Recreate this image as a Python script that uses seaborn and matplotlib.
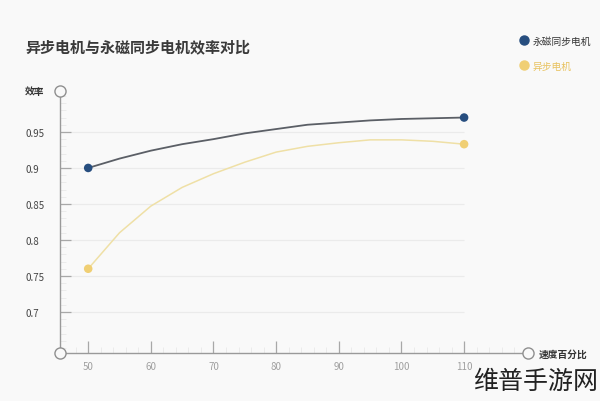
import matplotlib
matplotlib.use("Agg")
import matplotlib.pyplot as plt
import seaborn as sns
from matplotlib.lines import Line2D
from matplotlib.ticker import MultipleLocator

# data
speed = [50, 55, 60, 65, 70, 75, 80, 85, 90, 95, 100, 105, 110]
pm_sync = [0.900, 0.913, 0.924, 0.933, 0.940, 0.948, 0.954, 0.960, 0.963, 0.966, 0.968, 0.969, 0.970]
induction = [0.760, 0.810, 0.847, 0.873, 0.892, 0.908, 0.922, 0.930, 0.935, 0.939, 0.939, 0.937, 0.933]
series_names = ["永磁同步电机", "异步电机"]
y_ticks = [0.7, 0.75, 0.8, 0.85, 0.9, 0.95]
y_labels = ["0.7", "0.75", "0.8", "0.85", "0.9", "0.95"]
x_ticks = [50, 60, 70, 80, 90, 100, 110]

sns.set_style("white")
plt.rcParams["font.family"] = ["Noto Sans CJK SC", "DejaVu Sans"]

bg = "#f9f9f9"
fig = plt.figure(figsize=(6, 4.02), dpi=100, facecolor=bg)
ax = fig.add_axes([0.1, 0.1194, 0.78, 0.652], facecolor=bg)

x0, x1 = 45.5, 120.2
y0, y1 = 0.643, 1.007
ax.set_xlim(x0, x1)
ax.set_ylim(y0, y1)

# grid lines only up to last x value
ax.hlines(y_ticks, x0, speed[-1], color="#ebebeb", lw=0.9, zorder=0)

blue_line = "#5b5f66"
blue_dot = "#274e7f"
yel_line = "#efe0a6"
yel_dot = "#f0cf74"

sns.lineplot(x=speed, y=pm_sync, color=blue_line, lw=1.3, ax=ax, zorder=3)
sns.lineplot(x=speed, y=induction, color=yel_line, lw=1.1, ax=ax, zorder=3)
sns.scatterplot(x=[speed[0], speed[-1]], y=[pm_sync[0], pm_sync[-1]], color=blue_dot,
                s=38, edgecolor="none", ax=ax, zorder=4)
sns.scatterplot(x=[speed[0], speed[-1]], y=[induction[0], induction[-1]], color=yel_dot,
                s=38, edgecolor="none", ax=ax, zorder=4)

# spines / ticks
sns.despine(ax=ax)
for s in ["left", "bottom"]:
    ax.spines[s].set_color("#9a9a9a")
    ax.spines[s].set_linewidth(1.0)

ax.set_yticks(y_ticks)
ax.set_yticklabels(y_labels)
ax.set_xticks(x_ticks)
ax.yaxis.set_minor_locator(MultipleLocator(0.01))
ax.xaxis.set_minor_locator(MultipleLocator(2))
ax.tick_params(which="both", left=True, bottom=True)
ax.tick_params(axis="y", which="major", direction="in", length=8, width=0.9, color="#a8a8a8",
               labelsize=7, labelcolor="#444444", pad=25)
ax.tick_params(axis="x", which="major", direction="in", length=9, width=0.9, color="#a8a8a8",
               labelsize=7, labelcolor="#a0a0a0", pad=6)
ax.tick_params(axis="both", which="minor", direction="in", length=4.5, width=0.7, color="#ebebeb")
for lab in ax.get_yticklabels():
    lab.set_horizontalalignment("left")

# hollow circles at axis ends
circ = dict(marker="o", ms=8, mfc=bg, mec="#8f8f8f", mew=1.0, clip_on=False, zorder=5, ls="none")
ax.plot([x0], [y0], **circ)
ax.plot([x0], [y1], **circ)
ax.plot([x1], [y0], **circ)

ax.set_xlabel("")
ax.set_ylabel("")
fig.text(25 / 600, 1 - 92 / 402, "效率", fontsize=7, fontweight="bold", color="#333333",
         ha="left", va="center")
fig.text(539 / 600, 1 - 355 / 402, "速度百分比", fontsize=7, fontweight="bold", color="#333333",
         ha="left", va="center")

# title
fig.text(25 / 600, 1 - 47 / 402, "异步电机与永磁同步电机效率对比", fontsize=10.8,
         fontweight="bold", color="#3a3a3a", ha="left", va="center")

# legend
handles = [Line2D([], [], marker="o", ls="none", ms=6.5, color=blue_dot),
           Line2D([], [], marker="o", ls="none", ms=6.5, color=yel_dot)]
leg = fig.legend(handles, series_names, loc="upper left", bbox_to_anchor=(514 / 600, 1 - 33 / 402),
                 frameon=False, fontsize=7, handletextpad=0.35, labelspacing=1.5,
                 handlelength=1.2, borderaxespad=0)
leg.get_texts()[0].set_color("#333333")
leg.get_texts()[1].set_color("#e8c25e")

# watermark text
fig.text(598 / 600, 1 - 382 / 402, "维普手游网", fontsize=18, color="#222222",
         ha="right", va="center", fontweight="light")

fig.savefig("out.png", dpi=100, facecolor=bg)
